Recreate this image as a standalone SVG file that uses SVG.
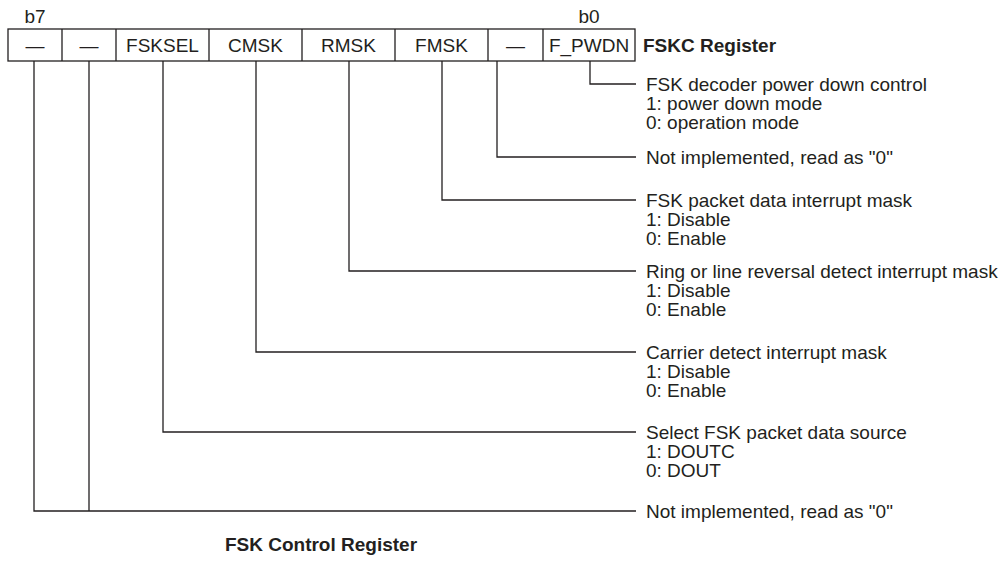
<svg xmlns="http://www.w3.org/2000/svg" width="1008" height="561" viewBox="0 0 1008 561">
<style>
text{font-family:"Liberation Sans",Arial,sans-serif;font-size:19px;fill:#231f20}
.c{text-anchor:middle}
.b{font-weight:bold}
.cell{fill:none;stroke:#231f20;stroke-width:1.3}
.ln{fill:none;stroke:#231f20;stroke-width:1.3}
</style>
<rect width="1008" height="561" fill="#fff"/>
<g id="register">
<text class="c" x="35" y="23">b7</text>
<text class="c" x="589" y="23">b0</text>
<rect class="cell" x="8" y="29" width="627" height="32"/>
<path class="cell" d="M62 29V61M116 29V61M209 29V61M302 29V61M395 29V61M488 29V61M543 29V61"/>
<text class="c" x="35" y="51.5">—</text>
<text class="c" x="89" y="51.5">—</text>
<text class="c" x="162.5" y="51.5">FSKSEL</text>
<text class="c" x="255.5" y="51.5">CMSK</text>
<text class="c" x="348.5" y="51.5">RMSK</text>
<text class="c" x="441.5" y="51.5">FMSK</text>
<text class="c" x="515.5" y="51.5">—</text>
<text class="c" x="589" y="51.5">F_PWDN</text>
<text class="b" x="643" y="51.5">FSKC Register</text>
</g>
<g id="connectors">
<path class="ln" d="M590 61V84H636"/>
<path class="ln" d="M497 61V157H636"/>
<path class="ln" d="M442 61V200H636"/>
<path class="ln" d="M349 61V271H636"/>
<path class="ln" d="M256 61V352H636"/>
<path class="ln" d="M163 61V432H636"/>
<path class="ln" d="M34 61V511H636M89 61V511"/>
</g>
<g id="desc-fpwdn">
<text x="646" y="90.5">FSK decoder power down control</text>
<text x="646" y="109.8">1: power down mode</text>
<text x="646" y="129.1">0: operation mode</text>
</g>
<g id="desc-b1">
<text x="646" y="163.5">Not implemented, read as "0"</text>
</g>
<g id="desc-fmsk">
<text x="646" y="206.5">FSK packet data interrupt mask</text>
<text x="646" y="225.8">1: Disable</text>
<text x="646" y="245.1">0: Enable</text>
</g>
<g id="desc-rmsk">
<text x="646" y="277.5">Ring or line reversal detect interrupt mask</text>
<text x="646" y="296.8">1: Disable</text>
<text x="646" y="316.1">0: Enable</text>
</g>
<g id="desc-cmsk">
<text x="646" y="358.5">Carrier detect interrupt mask</text>
<text x="646" y="377.8">1: Disable</text>
<text x="646" y="397.1">0: Enable</text>
</g>
<g id="desc-fsksel">
<text x="646" y="438.5">Select FSK packet data source</text>
<text x="646" y="457.8">1: DOUTC</text>
<text x="646" y="477.1">0: DOUT</text>
</g>
<g id="desc-b7b6">
<text x="646" y="517.5">Not implemented, read as "0"</text>
</g>
<g id="title">
<text class="c b" x="321" y="551">FSK Control Register</text>
</g>
</svg>
